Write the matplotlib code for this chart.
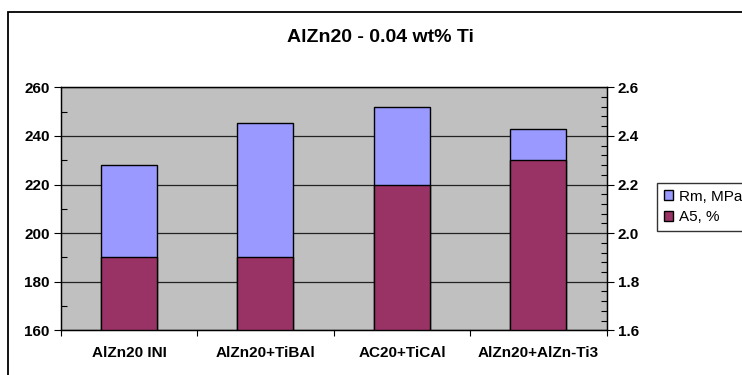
import matplotlib
matplotlib.use("Agg")
import matplotlib.pyplot as plt
import numpy as np
from matplotlib.patches import Rectangle
from matplotlib.ticker import MultipleLocator, FixedLocator, NullFormatter

categories = ["AlZn20 INI", "AlZn20+TiBAl", "AC20+TiCAl", "AlZn20+AlZn-Ti3"]
rm_mpa = [228, 245.5, 252, 243]
a5_pct = [1.9, 1.9, 2.2, 2.3]

plt.rcParams["font.family"] = ["Liberation Sans", "DejaVu Sans"]

W, H = 742, 375
fig = plt.figure(figsize=(W / 100, H / 100), dpi=100)
fig.patch.set_facecolor("white")

# outer chart border (cut off on right and bottom like the original)
fig.patches.append(Rectangle((7.7 / W, -0.2), 1.2, 1.2 - 12.3 / H,
                             transform=fig.transFigure, fill=False,
                             edgecolor="black", lw=1.3))

left, right, top, bottom = 60.7, 606.7, 87.3, 330.3
ax = fig.add_axes([left / W, 1 - bottom / H, (right - left) / W, (bottom - top) / H])
ax.set_facecolor("#C0C0C0")

x = np.arange(len(categories))
bw = 0.41

ax.bar(x, np.array(rm_mpa) - 160, bottom=160, width=bw, color="#9999FF",
       edgecolor="black", lw=1, zorder=3, label="Rm, MPa")
ax.set_ylim(160, 260)
ax.set_xlim(-0.5, len(categories) - 0.5)
ax.yaxis.set_major_locator(MultipleLocator(20))
ax.yaxis.set_minor_locator(MultipleLocator(10))
ax.grid(axis="y", which="major", color="#222222", lw=0.9, zorder=1)
ax.set_axisbelow(True)

ax2 = ax.twinx()
ax2.bar(x, np.array(a5_pct) - 1.6, bottom=1.6, width=bw, color="#993366",
        edgecolor="black", lw=1, zorder=3, label="A5, %")
ax2.set_ylim(1.6, 2.6)
ax2.yaxis.set_major_locator(MultipleLocator(0.2))
ax2.yaxis.set_minor_locator(MultipleLocator(0.04))
ax2.yaxis.set_major_formatter(plt.FuncFormatter(lambda v, p: f"{v:.1f}"))

# x axis: ticks at category boundaries, labels at centres
ax.xaxis.set_major_locator(FixedLocator(np.arange(-0.5, len(categories), 1.0)))
ax.xaxis.set_major_formatter(NullFormatter())
ax.xaxis.set_minor_locator(FixedLocator(x))
ax.set_xticklabels(categories, minor=True)
ax.tick_params(axis="x", which="major", direction="out", length=4, width=0.8)
ax.tick_params(axis="x", which="minor", length=0, pad=11)

ax.tick_params(axis="y", which="major", direction="out", length=5, width=0.8, pad=3)
ax.tick_params(axis="y", which="minor", direction="in", length=4, width=0.8)
ax2.tick_params(axis="y", which="major", direction="out", length=5, width=0.8, pad=3)
ax2.tick_params(axis="y", which="minor", direction="in", length=4, width=0.8)

for lab in ax.get_yticklabels() + ax2.get_yticklabels() + ax.get_xticklabels(minor=True):
    lab.set_fontweight("bold")
    lab.set_fontsize(11)

for a in (ax, ax2):
    for s in a.spines.values():
        s.set_color("black")
        s.set_linewidth(0.9)

fig.text(380 / W, 1 - 37.5 / H, "AlZn20 - 0.04 wt% Ti", ha="center", va="center",
         fontsize=14, fontweight="bold")

h1, l1 = ax.get_legend_handles_labels()
h2, l2 = ax2.get_legend_handles_labels()
leg = fig.legend(h1 + h2, l1 + l2, loc="upper left",
                 bbox_to_anchor=(656.7 / W, 1 - 182.7 / H), borderaxespad=0,
                 fontsize=11, frameon=True, fancybox=False, handlelength=0.6,
                 handleheight=0.6, handletextpad=0.4, borderpad=0.45, labelspacing=0.45)
leg.get_frame().set_edgecolor("black")
leg.get_frame().set_linewidth(1)

fig.savefig("out.png", dpi=100)
